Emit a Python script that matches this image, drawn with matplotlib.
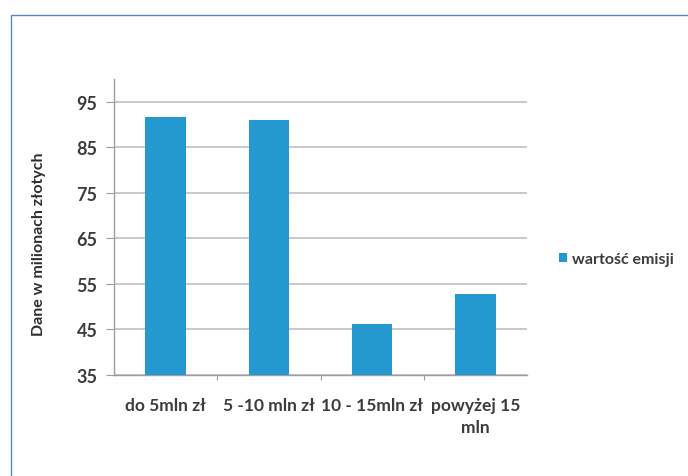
import matplotlib
matplotlib.use("Agg")
import matplotlib.pyplot as plt
from matplotlib.patches import Rectangle

categories = ["do 5mln zł", "5 -10 mln zł", "10 - 15mln zł", "powyżej 15\nmln"]
values = [91.6, 91.0, 46.3, 52.8]
series_name = "wartość emisji"
y_ticks = [35, 45, 55, 65, 75, 85, 95]
y_label = "Dane w milionach złotych"

plt.rcParams["font.family"] = ["Lato", "DejaVu Sans"]

W, H = 688, 477
fig = plt.figure(figsize=(W / 100, H / 100), dpi=100)
fig.patch.set_facecolor("white")

# outer chart frame
fig.patches.append(Rectangle((11 / W, -0.05), 1.1, (H - 16) / H + 0.05,
                             transform=fig.transFigure, fill=False,
                             edgecolor="#5b85c4", linewidth=1.0))

ax = fig.add_axes([114 / W, 101 / H, 413 / W, 296 / H])
bar_color = "#2399d0"
x = range(len(categories))
bars = ax.bar(x, values, width=0.39, color=bar_color, zorder=3, label=series_name)

ax.set_xlim(-0.5, len(categories) - 0.5)
ax.set_ylim(35, 100)
ax.set_yticks(y_ticks)
ax.yaxis.grid(True, color="#cbc3c3", linewidth=1.3, zorder=0)
ax.set_axisbelow(True)

for s in ["top", "right"]:
    ax.spines[s].set_visible(False)
for s in ["left", "bottom"]:
    ax.spines[s].set_color("#a09a9a")
    ax.spines[s].set_linewidth(1.0)

txt = "#3c3c3c"
ax.tick_params(axis="y", length=5.5, color="#a09a9a", labelsize=13,
               labelcolor=txt, pad=6.5)
ax.set_yticklabels([str(t) for t in y_ticks], fontweight="bold")

ax.set_xticks([i + 0.5 for i in range(len(categories) - 1)])
ax.set_xticklabels([])
ax.tick_params(axis="x", length=3.6, color="#a09a9a")
for i, c in enumerate(categories):
    ax.text(i, -0.075, c, transform=ax.get_xaxis_transform(), ha="center",
            va="top", fontsize=12.5, color=txt, fontweight="bold",
            linespacing=1.45)

fig.text(39 / W, 1 - 244 / H, y_label, rotation=90, ha="center", va="center",
         fontsize=11.5, fontweight="bold", color="#2e2e2e")

fig.legend(handles=[bars], labels=[series_name], loc="center left",
           bbox_to_anchor=(545 / W, 1 - 260 / H), frameon=False,
           handlelength=0.45, handleheight=0.45, handletextpad=0.35,
           labelcolor=txt, prop={"weight": "bold", "size": 11.5})

fig.savefig("out.png", dpi=100, facecolor="white")
